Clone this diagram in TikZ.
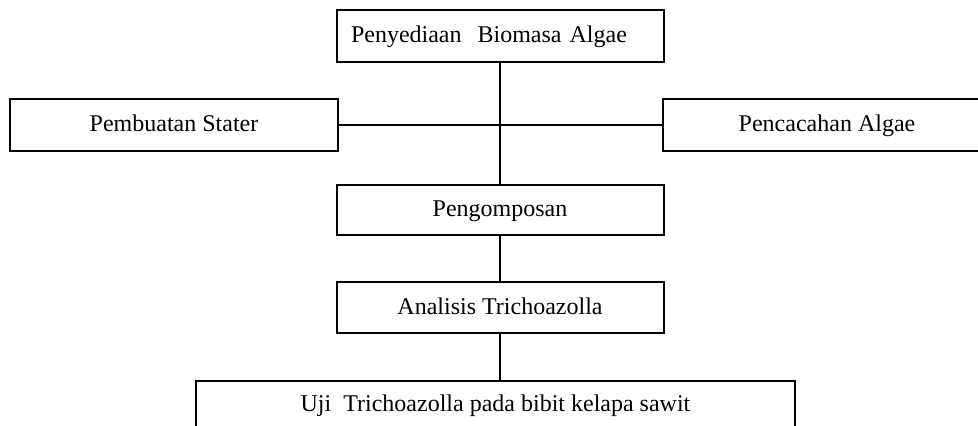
\documentclass[tikz,border=0pt]{standalone}
\usepackage{fontspec}
\setmainfont{Liberation Serif}
\usetikzlibrary{positioning}

\begin{document}
\begin{tikzpicture}[x=0.5pt,y=-0.5pt,
  stepbox/.style={draw,line width=1pt,inner sep=0pt,font=\fontsize{12}{14}\selectfont,
    text height=9pt,text depth=2.5pt,
    minimum width=163.5pt,minimum height=26pt,align=center},
  link/.style={draw,line width=1pt}
]
  \clip (0,0) rectangle (978,425);
  \useasboundingbox (0,0) rectangle (978,425);
  % boxes
  \node[stepbox,text width=149pt,align=left] (biomasa) at (500,35.5) {Penyediaan\ \ Biomasa Algae};
  \node[stepbox,minimum width=164pt] (stater) at (174,124.5) {Pembuatan Stater};
  \node[stepbox,minimum width=164pt] (cacah) at (827,124.5) {Pencacahan Algae};
  \node[stepbox,minimum height=25pt] (kompos) at (500,210) {Pengomposan};
  \node[stepbox,minimum height=25.5pt] (analisis) at (500,307.5) {Analisis Trichoazolla};
  \node[stepbox,minimum width=299.5pt,minimum height=24pt] (uji) at (495.5,405) {Uji\ \ Trichoazolla pada bibit kelapa sawit};
  % connectors
  \draw[link] (biomasa.south) -- (kompos.north);
  \draw[link] (stater.east) -- (cacah.west);
  \draw[link] (kompos.south) -- (analisis.north);
  \draw[link] (analisis.south) -- (analisis.south |- uji.north);
\end{tikzpicture}
\end{document}
